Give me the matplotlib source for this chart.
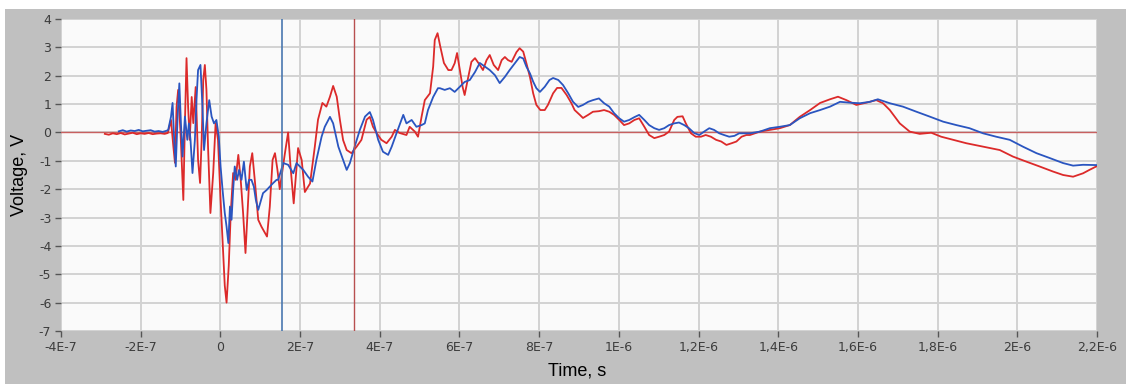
import numpy as np
import matplotlib.pyplot as plt
from matplotlib.patches import Rectangle

# channel 1 (red), time in ns, voltage in V
red_t_ns = [-290, -280, -270, -260, -250, -240, -230, -220, -210, -200, -190, -180, -170, -160, -150, -140, -132,
            -124, -118, -114, -110, -106, -100, -93, -89, -85, -81, -77, -72, -68, -62, -56, -51, -47, -43, -39, -35,
            -31, -25, -18, -12, -6, 0.5, 5.5, 11, 15.5, 21, 26, 32, 38, 45, 51, 57, 63, 68, 74, 80, 87, 95, 103, 112,
            117, 124, 131, 137, 143, 149, 162, 170, 176, 184, 195, 204, 212, 225, 237, 245, 256, 266, 275, 283, 292,
            300, 308, 317, 329, 342, 354, 367, 375, 383, 392, 404, 417, 430, 438, 450, 467, 475, 488, 496, 505, 513,
            526, 534, 538, 545, 552, 561, 572, 580, 588, 594, 601, 608, 613, 622, 630, 639, 651, 659, 668, 676, 686,
            697, 706, 714, 722, 731, 743, 751, 760, 768, 777, 785, 793, 803, 814, 822, 835, 845, 856, 869, 881, 889,
            902, 910, 923, 935, 950, 963, 976, 988, 1001, 1013, 1026, 1039, 1051, 1064, 1076, 1089, 1101, 1114, 1126,
            1139, 1147, 1160, 1168, 1181, 1193, 1206, 1218, 1231, 1244, 1257, 1270, 1283, 1295, 1308, 1320, 1329,
            1354, 1379, 1404, 1429, 1454, 1480, 1505, 1530, 1550, 1571, 1596, 1621, 1646, 1663, 1680, 1705, 1730,
            1755, 1784, 1809, 1839, 1872, 1914, 1956, 1989, 2023, 2056, 2090, 2115, 2140, 2165, 2181, 2198]
red_v = [-0.05, -0.08, -0.03, -0.06, -0.02, -0.07, -0.04, -0.01, -0.06, -0.03, -0.05, -0.02, -0.06, -0.04, -0.03, -0.05, -0.02,
         0.44, -0.5, -1.07, 0.9, 1.5, -0.02, -2.38, 0.33, 2.62, 0.91, -0.26, 1.25, 0.33, 1.6, -0.97, -1.78, -0.26, 1.85, 2.38, 1.5,
         -0.5, -2.84, -1.43, 0.32, -0.26, -2.38, -3.8, -5.4, -6.0, -4.7, -2.84, -1.43, -1.67, -0.79, -1.67, -2.84, -4.25, -2.84, -1.2, -0.73, -1.78, -3.08, -3.32, -3.55,
         -3.67, -2.62, -0.97, -0.73, -1.3, -2.0, -0.73, 0.0, -1.2, -2.5, -0.55, -0.97, -2.1, -1.8, -0.5, 0.45, 1.04, 0.91, 1.26, 1.64, 1.26,
         0.44, -0.27, -0.62, -0.73, -0.5, -0.26, 0.45, 0.55, 0.2, -0.02, -0.26, -0.38, -0.15, 0.09, -0.02, -0.09, 0.2, 0.03, -0.15, 0.56, 1.14,
         1.38, 2.32, 3.26, 3.5, 3.02, 2.45, 2.2, 2.2, 2.44, 2.8, 2.2, 1.6, 1.32, 1.95, 2.49, 2.62, 2.38, 2.2, 2.55, 2.73, 2.38,
         2.2, 2.55, 2.66, 2.55, 2.49, 2.83, 2.97, 2.85, 2.44, 1.95, 1.38, 0.97, 0.79, 0.79, 0.97, 1.38, 1.57, 1.57, 1.32, 1.03, 0.79,
         0.62, 0.51, 0.62, 0.73, 0.75, 0.79, 0.73, 0.62, 0.44, 0.26, 0.32, 0.44, 0.5, 0.2, -0.09, -0.2, -0.15, -0.09, 0.03,
         0.44, 0.55, 0.57, 0.32, -0.03, -0.15, -0.15, -0.09, -0.15, -0.26, -0.32, -0.44, -0.38, -0.32, -0.15, -0.09, -0.09,
         0.03, 0.09, 0.15, 0.26, 0.55, 0.79, 1.04, 1.17, 1.26, 1.14, 0.97, 1.05, 1.14, 1.03, 0.79, 0.32, 0.03,
         -0.05, -0.01, -0.15, -0.26, -0.38, -0.5, -0.62, -0.85, -1.03, -1.2, -1.38, -1.5, -1.56, -1.44, -1.32, -1.2]

# channel 2 (blue)
blue_t_ns = [-255, -245, -235, -225, -215, -205, -195, -185, -175, -165, -155, -145, -135,
             -131, -124, -120, -116, -112, -107, -103, -99, -95, -89, -83, -79, -75, -70, -64, -60, -56, -50, -45, -41,
             -35, -28, -22, -16, -10, -4, 0.5, 5.5, 11, 15.5, 20, 24, 28, 32, 36, 42, 47, 53, 59, 66, 72, 78, 84, 89,
             95, 102, 107, 116, 124, 132, 141, 145, 158, 170, 183, 191, 208, 220, 231, 241, 254, 262, 275, 283, 296,
             308, 317, 325, 337, 350, 363, 375, 383, 396, 408, 421, 430, 442, 459, 467, 480, 492, 505, 513, 521, 534,
             546, 551, 563, 576, 588, 601, 613, 626, 639, 651, 664, 676, 689, 701, 714, 726, 739, 751, 760, 768, 777,
             785, 793, 802, 814, 826, 835, 848, 860, 873, 885, 898, 910, 923, 935, 950, 963, 976, 988, 1001, 1013, 1026,
             1039, 1051, 1064, 1076, 1089, 1101, 1114, 1126, 1139, 1151, 1164, 1176, 1189, 1202, 1214, 1227, 1239,
             1252, 1264, 1277, 1290, 1302, 1329, 1354, 1379, 1404, 1429, 1454, 1480, 1505, 1530, 1555, 1580, 1605,
             1630, 1650, 1680, 1713, 1747, 1780, 1814, 1847, 1880, 1914, 1947, 1981, 2014, 2048, 2081, 2115, 2140,
             2165, 2198]
blue_v = [0.04, 0.08, 0.03, 0.07, 0.05, 0.09, 0.04, 0.06, 0.08, 0.03, 0.05, 0.02, 0.06,
          0.09, 0.55, 1.04, -0.26, -1.2, 0.68, 1.73, 0.32, -0.85, 0.56, -0.26, 0.32, -0.26, -1.43, -0.26, 1.14, 2.2, 2.38, 0.91, -0.62,
          0.32, 1.14, 0.56, 0.32, 0.44, -0.15, -1.2, -2.03, -2.84, -3.32, -3.9, -2.61, -3.08, -2.03, -1.2, -1.67, -1.32, -1.67, -1.03, -2.03, -1.67, -1.67, -1.91, -2.38,
          -2.73, -2.38, -2.14, -2.03, -1.91, -1.79, -1.67, -1.67, -1.08, -1.14, -1.44, -1.08, -1.32, -1.56, -1.73, -0.97, -0.15, 0.2, 0.55, 0.32, -0.5,
          -0.97, -1.32, -1.08, -0.5, 0.09, 0.56, 0.72, 0.44, -0.26, -0.68, -0.79, -0.5, -0.03, 0.62, 0.32, 0.44, 0.2, 0.26, 0.32, 0.79, 1.25,
          1.56, 1.56, 1.5, 1.56, 1.43, 1.61, 1.78, 1.85, 2.13, 2.45, 2.32, 2.2, 2.02, 1.74, 1.96, 2.2, 2.44, 2.66, 2.61, 2.32, 2.08,
          1.79, 1.56, 1.43, 1.61, 1.85, 1.92, 1.85, 1.67, 1.38, 1.08, 0.9, 0.97, 1.08, 1.14, 1.2, 1.03, 0.91, 0.68, 0.5, 0.38, 0.44,
          0.54, 0.62, 0.44, 0.26, 0.15, 0.09, 0.15, 0.26, 0.32, 0.35, 0.26, 0.15, -0.02, -0.09, 0.03, 0.15, 0.09,
          -0.03, -0.09, -0.15, -0.12, -0.03, -0.03, 0.03, 0.15, 0.2, 0.26, 0.5, 0.68, 0.79, 0.91, 1.08, 1.05, 1.03,
          1.08, 1.17, 1.03, 0.91, 0.73, 0.56, 0.38, 0.26, 0.15, -0.03, -0.15, -0.26, -0.5, -0.73, -0.9, -1.08, -1.17,
          -1.14, -1.15]

# cursors
cursor_level = 0.0
cursor_blue_t = 155e-9
cursor_red_t = 336e-9

x_ticks = [-4e-7, -2e-7, 0, 2e-7, 4e-7, 6e-7, 8e-7, 1e-6, 1.2e-6, 1.4e-6, 1.6e-6, 1.8e-6, 2e-6, 2.2e-6]
x_tick_labels = ['-4E-7', '-2E-7', '0', '2E-7', '4E-7', '6E-7', '8E-7', '1E-6',
                 '1,2E-6', '1,4E-6', '1,6E-6', '1,8E-6', '2E-6', '2,2E-6']
y_ticks = [4, 3, 2, 1, 0, -1, -2, -3, -4, -5, -6, -7]

W, H = 1126, 384
fig = plt.figure(figsize=(W / 100, H / 100), dpi=100, facecolor='white')
fig.patches.append(Rectangle((5 / W, 0), 1, 375 / H, transform=fig.transFigure,
                             facecolor='#c0c0c0', edgecolor='none', zorder=-10))

ax = fig.add_axes([61 / W, 53 / H, 1036 / W, 312 / H])
ax.set_zorder(1)
ax.set_facecolor('#fafafa')
ax.set_xlim(-4e-7, 2.2e-6)
ax.set_ylim(-7, 4)
ax.set_xticks(x_ticks)
ax.set_xticklabels(x_tick_labels)
ax.set_yticks(y_ticks)
ax.set_yticklabels([str(v) for v in y_ticks])
ax.grid(True, color='#d2d2d2', lw=1.4)
ax.set_axisbelow(True)
for s in ax.spines.values():
    s.set_visible(False)
ax.tick_params(direction='out', length=4, width=1, color='#555555',
               labelsize=9, labelcolor='#3c3c3c', pad=3)

ax.axhline(cursor_level, color='#c86060', lw=1.0, zorder=2)
ax.plot(np.array(red_t_ns) * 1e-9, red_v, color='#dc2a2a', lw=1.3, zorder=3)
ax.plot(np.array(blue_t_ns) * 1e-9, blue_v, color='#2a55c0', lw=1.3, zorder=4)
ax.axvline(cursor_blue_t, color='#4a78b0', lw=1.2, zorder=5)
ax.axvline(cursor_red_t, color='#b85050', lw=1.0, zorder=5)

fig.text(577 / W, 1 - 371 / H, 'Time, s', ha='center', va='center',
         fontsize=13, family='Liberation Sans', color='black', zorder=2)
fig.text(19 / W, 1 - 175 / H, 'Voltage, V', ha='center', va='center', rotation=90,
         fontsize=13, family='Liberation Sans', color='black', zorder=2)

fig.savefig('out.png', dpi=100, facecolor=fig.get_facecolor())
